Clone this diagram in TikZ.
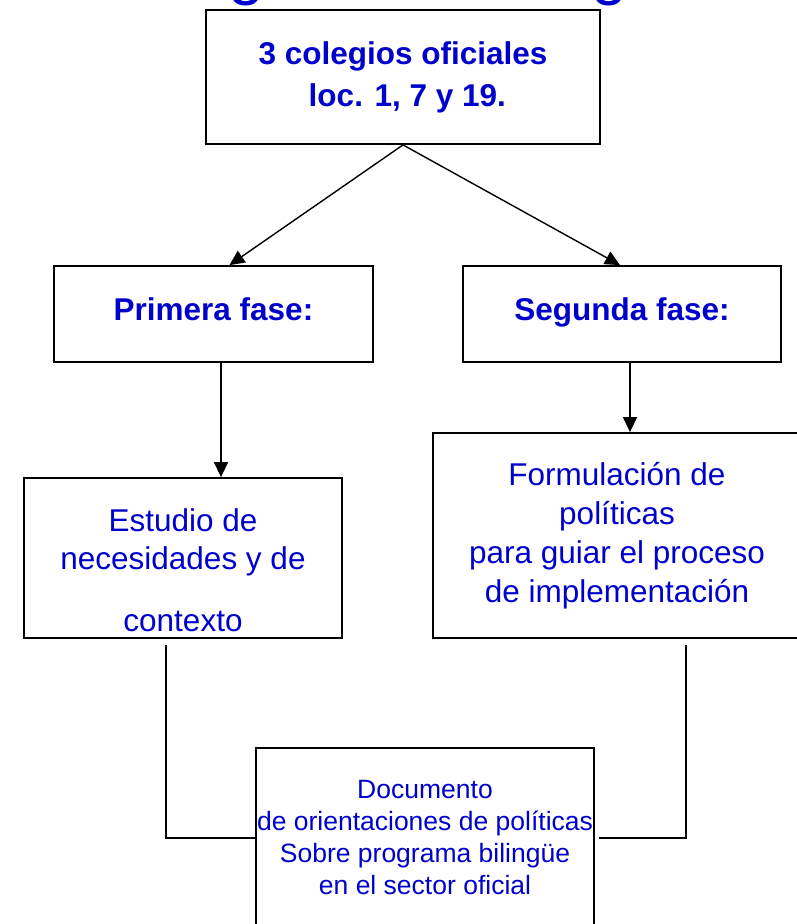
\documentclass[tikz,border=0pt]{standalone}
\usepackage{fontspec}
\setmainfont{Liberation Sans}
\usetikzlibrary{arrows.meta}
\definecolor{docblue}{RGB}{0,0,204}

\begin{document}
\begin{tikzpicture}[x=1pt,y=-1pt,
    caja/.style={draw,line width=1.8pt,align=center,text=docblue,inner sep=0pt},
    fase/.style={caja,minimum height=96pt,text height=20pt,text depth=8pt,
      font=\bfseries\fontsize{31.5}{40}\selectfont},
    flecha/.style={line width=1.4pt,-{Triangle[length=15pt,width=14pt]}},
    linea/.style={line width=1.4pt}]
  \useasboundingbox (0,0) rectangle (797,924);
  \clip (0,0) rectangle (797,924);
  % titulo, cortado por arriba
  \node[text=docblue,font=\fontsize{65}{70}\selectfont,anchor=base,inner sep=0pt]
    (tit1) at (247,-8) {g};
  \node[text=docblue,font=\fontsize{65}{70}\selectfont,anchor=base,inner sep=0pt]
    (tit2) at (610,-8) {g};
  % cajas
  \node[caja,minimum width=394pt,minimum height=134pt,
    font=\bfseries\fontsize{31.5}{42}\selectfont]
    (col) at (403,77) {3 colegios oficiales\\ \ loc. 1, 7 y 19.};
  \node[fase,minimum width=319pt] (prim) at (213.5,314) {Primera fase:};
  \node[fase,minimum width=318pt] (seg) at (622,314) {Segunda fase:};
  \node[caja,minimum width=318pt,minimum height=160pt,
    font=\fontsize{31.5}{38}\selectfont]
    (est) at (183,558) {\mbox{}\\[9pt]Estudio de\\ necesidades y de\\[24pt] contexto};
  \node[caja,minimum width=368pt,minimum height=205pt,
    font=\fontsize{31.5}{39}\selectfont]
    (form) at (617,535.5) {Formulación de\\ políticas\\ para guiar el proceso\\ de implementación};
  \node[caja,minimum width=338pt,minimum height=180pt,
    font=\fontsize{26.5}{32}\selectfont]
    (doc) at (425,838) {Documento\\ de orientaciones de políticas\\ Sobre programa bilingüe\\ en el sector oficial};
  % flechas
  \draw[flecha] (col.south) -- ([xshift=16pt]prim.north);
  \draw[flecha] (col.south) -- ([xshift=-2pt]seg.north);
  \coordinate (pa) at ([xshift=7.5pt]prim.south);
  \coordinate (sa) at ([xshift=8pt]seg.south);
  \draw[flecha] (pa) -- (pa |- est.north);
  \draw[flecha] (sa) -- (sa |- form.north);
  % lineas al documento
  \draw[linea] ([xshift=-17pt,yshift=-6pt]est.south) |- (doc.west);
  \draw[linea] ([xshift=69pt,yshift=-6pt]form.south) |- ([xshift=4pt]doc.east);
\end{tikzpicture}
\end{document}
